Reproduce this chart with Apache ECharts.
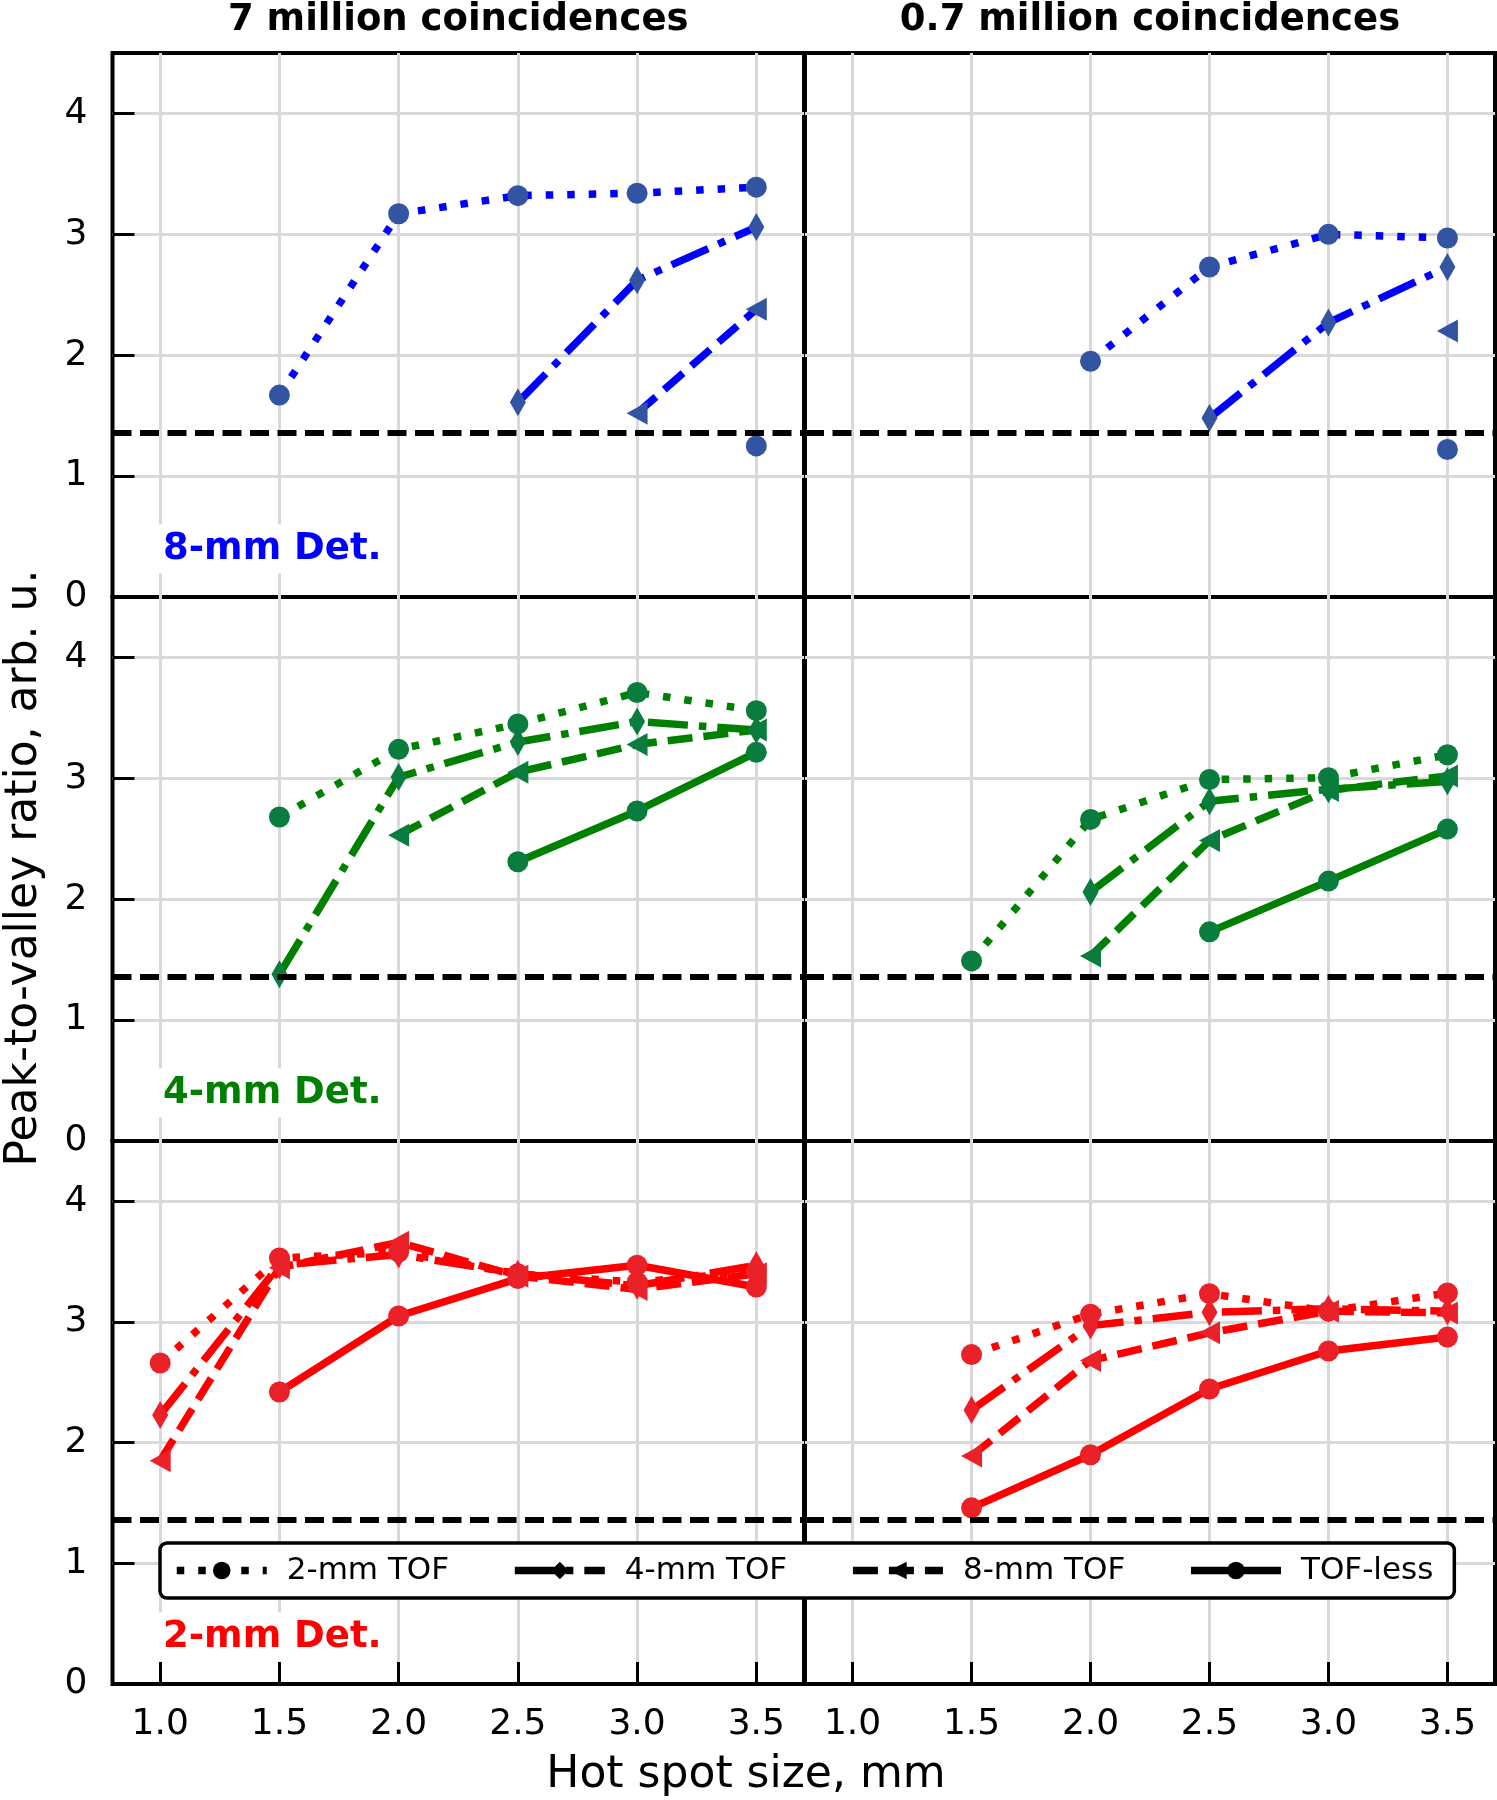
<!DOCTYPE html>
<html>
<head>
<meta charset="utf-8">
<title>Peak-to-valley ratio</title>
<script src="https://cdn.jsdelivr.net/npm/echarts@6/dist/echarts.min.js"></script>
<style>
  html, body { margin: 0; padding: 0; background: #ffffff; }
  #chart { width: 1497px; height: 1800px; }
</style>
</head>
<body>
<div id="chart"></div>
<script>
// ---------------- data ----------------
const X_SIZES = [1.0, 1.5, 2.0, 2.5, 3.0, 3.5];
const X_TICKS = [1.0, 1.5, 2.0, 2.5, 3.0, 3.5];
const Y_TICK_LABELS = [0, 1, 2, 3, 4];
const Y_TICKS = [1, 2, 3, 4];
const THRESHOLD = 1.36;

const COLUMN_TITLES = ['7 million coincidences', '0.7 million coincidences'];
const ROW_LABELS = ['8-mm Det.', '4-mm Det.', '2-mm Det.'];
const SERIES_NAMES = ['2-mm TOF', '4-mm TOF', '8-mm TOF', 'TOF-less'];

// 8-mm detector
const D8_7M_TOF2  = [null, 1.67, 3.17, 3.32, 3.34, 3.39];
const D8_7M_TOF4  = [null, null, null, 1.61, 2.62, 3.06];
const D8_7M_TOF8  = [null, null, null, null, 1.52, 2.38];
const D8_7M_NOTOF = [null, null, null, null, null, 1.25];
const D8_07M_TOF2  = [null, null, 1.95, 2.73, 3.00, 2.97];
const D8_07M_TOF4  = [null, null, null, 1.48, 2.27, 2.73];
const D8_07M_TOF8  = [null, null, null, null, null, 2.20];
const D8_07M_NOTOF = [null, null, null, null, null, 1.22];
// 4-mm detector
const D4_7M_TOF2  = [null, 2.68, 3.24, 3.45, 3.71, 3.56];
const D4_7M_TOF4  = [null, 1.38, 3.01, 3.30, 3.47, 3.40];
const D4_7M_TOF8  = [null, null, 2.53, 3.05, 3.28, 3.40];
const D4_7M_NOTOF = [null, null, null, 2.31, 2.73, 3.215];
const D4_07M_TOF2  = [null, 1.49, 2.66, 2.99, 3.005, 3.195];
const D4_07M_TOF4  = [null, null, 2.06, 2.81, 2.91, 2.975];
const D4_07M_TOF8  = [null, null, 1.53, 2.485, 2.90, 3.02];
const D4_07M_NOTOF = [null, null, null, 1.73, 2.15, 2.58];
// 2-mm detector
const D2_7M_TOF2  = [2.66, 3.53, 3.58, 3.40, 3.33, 3.42];
const D2_7M_TOF4  = [2.23, 3.47, 3.56, 3.40, 3.30, 3.47];
const D2_7M_TOF8  = [1.85, 3.45, 3.66, 3.38, 3.27, 3.40];
const D2_7M_NOTOF = [null, 2.42, 3.05, 3.36, 3.47, 3.29];
const D2_07M_TOF2  = [null, 2.73, 3.065, 3.235, 3.09, 3.24];
const D2_07M_TOF4  = [null, 2.27, 2.97, 3.08, 3.11, 3.09];
const D2_07M_TOF8  = [null, 1.89, 2.68, 2.91, 3.09, 3.075];
const D2_07M_NOTOF = [null, 1.46, 1.90, 2.445, 2.76, 2.875];

// ---------------- layout / style ----------------
const FONT = '"DejaVu Sans", Verdana, sans-serif';
const PANELS = [
  [[D8_7M_TOF2, D8_7M_TOF4, D8_7M_TOF8, D8_7M_NOTOF], [D8_07M_TOF2, D8_07M_TOF4, D8_07M_TOF8, D8_07M_NOTOF]],
  [[D4_7M_TOF2, D4_7M_TOF4, D4_7M_TOF8, D4_7M_NOTOF], [D4_07M_TOF2, D4_07M_TOF4, D4_07M_TOF8, D4_07M_NOTOF]],
  [[D2_7M_TOF2, D2_7M_TOF4, D2_7M_TOF8, D2_7M_NOTOF], [D2_07M_TOF2, D2_07M_TOF4, D2_07M_TOF8, D2_07M_NOTOF]]
];
const ROW_LINE_COLORS = ['#0000ff', '#008000', '#ff0000'];
const ROW_MARK_COLORS = ['#3353a3', '#0a7c3e', '#ea2129'];
const LW = 7.5;
const SERIES_STYLE = [
  { dash: [LW, 14], symbol: 'circle', size: 21 },
  { dash: [40, 11, LW, 11], symbol: 'diamond', size: [16, 28] },
  { dash: [25, 11], symbol: 'path://M0,5L10,0L10,10Z', size: [21, 23] },
  { dash: 'solid', symbol: 'circle', size: 21 }
];
const COL_LEFT = [112.5, 805];
const COL_WIDTH = [691.5, 690];
const ROW_TOP = [53, 597, 1141];
const ROW_H = 544;
const GRID_COLOR = '#d9d9d9';

const grids = [], xAxes = [], yAxes = [], series = [], graphics = [];

for (let r = 0; r < 3; r++) {
  for (let c = 0; c < 2; c++) {
    const gi = r * 2 + c;
    const isBottom = r === 2, isLeft = c === 0;
    grids.push({
      left: COL_LEFT[c], top: ROW_TOP[r], width: COL_WIDTH[c], height: r === 2 ? ROW_H - 1 : ROW_H,
      show: true, borderColor: '#000', borderWidth: 4, backgroundColor: 'transparent', containLabel: false
    });
    xAxes.push({
      gridIndex: gi, type: 'value', min: 0.8, max: 3.7,
      axisLine: { show: false },
      axisTick: { show: isBottom, inside: true, length: 22, lineStyle: { color: '#000', width: 3 }, customValues: X_TICKS },
      axisLabel: { show: isBottom, customValues: X_TICKS, formatter: v => Number(v).toFixed(1),
                   fontSize: 36, color: '#000', fontFamily: FONT, margin: 23 },
      splitLine: { show: true, lineStyle: { color: GRID_COLOR, width: 3 } }
    });
    yAxes.push({
      gridIndex: gi, type: 'value', min: 0, max: 4.5,
      axisLine: { show: false },
      axisTick: { show: isLeft, inside: true, length: 22, lineStyle: { color: '#000', width: 3 }, customValues: Y_TICKS },
      axisLabel: { show: isLeft, customValues: Y_TICK_LABELS, fontSize: 36, color: '#000', fontFamily: FONT, margin: 25 },
      splitLine: { show: true, lineStyle: { color: GRID_COLOR, width: 3 } }
    });
    const vals = PANELS[r][c];
    for (let s = 0; s < 4; s++) {
      const st = SERIES_STYLE[s];
      const data = [];
      X_SIZES.forEach((x, i) => { if (vals[s][i] !== null) data.push([x, vals[s][i]]); });
      const ser = {
        type: 'line', name: SERIES_NAMES[s], xAxisIndex: gi, yAxisIndex: gi, data: data,
        symbol: st.symbol, symbolSize: st.size, showSymbol: true,
        lineStyle: { color: ROW_LINE_COLORS[r], width: LW, type: st.dash, cap: 'butt' },
        itemStyle: { color: ROW_MARK_COLORS[r] },
        emphasis: { disabled: true }, silent: true
      };
      if (s === 0) {
        ser.markLine = {
          silent: true, symbol: ['none', 'none'], label: { show: false },
          lineStyle: { color: '#000', width: 6, type: [19, 8.5] },
          data: [{ yAxis: THRESHOLD }], animation: false
        };
      }
      series.push(ser);
    }
    if (isLeft) {
      graphics.push({
        type: 'text', x: 155, y: ROW_TOP[r] + ROW_H - 48, z: 50,
        style: {
          text: ROW_LABELS[r], fill: ROW_LINE_COLORS[r], font: 'bold 37px ' + FONT,
          textAlign: 'left', align: 'left', textVerticalAlign: 'middle', verticalAlign: 'middle',
          backgroundColor: '#ffffff', padding: [6, 8, 6, 8]
        }
      });
    }
  }
}

for (let c = 0; c < 2; c++) {
  graphics.push({
    type: 'text', x: COL_LEFT[c] + COL_WIDTH[c] / 2, y: 20, z: 50,
    style: { text: COLUMN_TITLES[c], fill: '#000', font: 'bold 37px ' + FONT,
             textAlign: 'center', align: 'center', textVerticalAlign: 'middle', verticalAlign: 'middle' }
  });
}
graphics.push({
  type: 'text', x: 746, y: 1776, z: 50,
  style: { text: 'Hot spot size, mm', fill: '#000', font: '44px ' + FONT,
           textAlign: 'center', align: 'center', textVerticalAlign: 'middle', verticalAlign: 'middle' }
});
graphics.push({
  type: 'text', x: 25, y: 868, rotation: Math.PI / 2, z: 50,
  style: { text: 'Peak-to-valley ratio, arb. u.', fill: '#000', font: '44px ' + FONT,
           textAlign: 'center', align: 'center', textVerticalAlign: 'middle', verticalAlign: 'middle' }
});

const option = {
  animation: false,
  backgroundColor: '#ffffff',
  textStyle: { fontFamily: FONT },
  grid: grids,
  xAxis: xAxes,
  yAxis: yAxes,
  series: series,
  legend: {
    show: true, selectedMode: false, orient: 'horizontal',
    left: 160, top: 1543,
    itemWidth: 90, itemHeight: 22, itemGap: 62,
    padding: [12, 21, 12, 13],
    borderColor: '#000', borderWidth: 3.5, borderRadius: 7, backgroundColor: '#ffffff',
    textStyle: { fontSize: 31, color: '#000', fontFamily: FONT, padding: [0, 0, 0, 15] },
    data: SERIES_NAMES.map((n, i) => ({
      name: n,
      itemStyle: { color: '#000' },
      lineStyle: { color: '#000', width: LW, type: SERIES_STYLE[i].dash }
    })),
    z: 20
  },
  graphic: graphics
};

const chart = echarts.init(document.getElementById('chart'), null, { renderer: 'canvas' });
chart.setOption(option);
</script>
</body>
</html>
